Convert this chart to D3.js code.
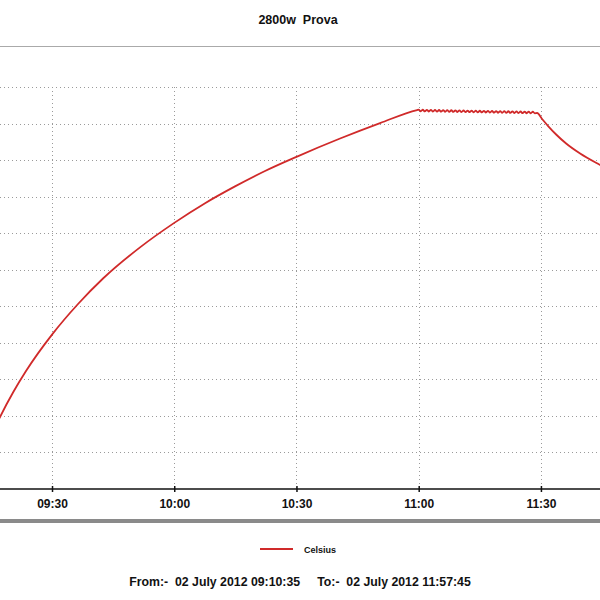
<!DOCTYPE html>
<html>
<head>
<meta charset="utf-8">
<script src="https://cdn.jsdelivr.net/npm/d3@7"></script>
<style>
  html, body { margin: 0; padding: 0; background: #fff; }
  svg { display: block; font-family: "Liberation Sans", Arial, Helvetica, sans-serif; }
</style>
</head>
<body>
<svg id="chart" width="600" height="600"></svg>
<script>
// ---- data ----
const chartTitle = "2800w  Prova";
const seriesName = "Celsius";
const footerText = "From:-  02 July 2012 09:10:35     To:-  02 July 2012 11:57:45";
const dateStr = "2012-07-02";
const startTime = "09:10:35";
const endTime = "11:57:45";
const xTickLabels = ["09:30", "10:00", "10:30", "11:00", "11:30"];
const yTicks = [20, 25, 30, 35, 40, 45, 50, 55, 60, 65, 70, 75];

// heating phase
const heatTimes = ["09:10:35","09:14:02","09:17:14","09:20:26","09:23:37","09:30:00","09:36:23","09:42:31","09:51:36","10:00:00","10:07:34","10:14:55","10:22:17","10:30:00","10:40:42","10:50:31","10:59:36"];
const heatValues = [21.37, 26.02, 29.85, 33.20, 36.14, 41.12, 45.31, 48.80, 53.06, 56.41, 59.10, 61.40, 63.51, 65.45, 67.95, 70.06, 71.85];

// thermostat-cycling plateau
const plateauTimes = ["11:00:00","11:00:30","11:01:00","11:01:30","11:02:00","11:02:30","11:03:00","11:03:30","11:04:00","11:04:30","11:05:00","11:05:30","11:06:00","11:06:30","11:07:00","11:07:30","11:08:00","11:08:30","11:09:00","11:09:30","11:10:00","11:10:30","11:11:00","11:11:30","11:12:00","11:12:30","11:13:00","11:13:30","11:14:00","11:14:30","11:15:00","11:15:30","11:16:00","11:16:30","11:17:00","11:17:30","11:18:00","11:18:30","11:19:00","11:19:30","11:20:00","11:20:30","11:21:00","11:21:30","11:22:00","11:22:30","11:23:00","11:23:30","11:24:00","11:24:30","11:25:00","11:25:30","11:26:00","11:26:30","11:27:00","11:27:30","11:28:00","11:28:30"];
const plateauValues = [71.90, 71.67, 71.89, 71.66, 71.88, 71.65, 71.87, 71.64, 71.86, 71.63, 71.85, 71.62, 71.84, 71.61, 71.83, 71.60, 71.82, 71.59, 71.81, 71.58, 71.80, 71.57, 71.79, 71.56, 71.78, 71.55, 71.77, 71.54, 71.76, 71.53, 71.75, 71.52, 71.74, 71.51, 71.73, 71.50, 71.72, 71.49, 71.71, 71.48, 71.70, 71.47, 71.69, 71.46, 71.68, 71.45, 71.67, 71.44, 71.66, 71.43, 71.65, 71.42, 71.64, 71.41, 71.63, 71.40, 71.62, 71.40];

// cooling phase
const coolTimes = ["11:29:04","11:30:17","11:31:46","11:33:44","11:36:11","11:39:37","11:44:32","11:50:40","11:57:45"];
const coolValues = [71.44, 70.62, 69.66, 68.50, 67.27, 65.90, 64.33, 62.55, 60.77];

// ---- build ----
const parse = d3.timeParse("%Y-%m-%d %H:%M:%S");
const toDate = t => parse(dateStr + " " + t);
const allTimes = heatTimes.concat(plateauTimes, coolTimes);
const allValues = heatValues.concat(plateauValues, coolValues);
const data = allTimes.map((t, i) => ({ t: toDate(t), v: allValues[i] }));

const svg = d3.select("#chart");
const W = 600;

const x = d3.scaleTime()
  .domain([toDate(startTime), toDate(endTime)])
  .range([-27.1, 654.0]);
const y = d3.scaleLinear().domain([20, 75]).range([489, 87]);

// title
svg.append("text")
  .attr("x", 298).attr("y", 23.5)
  .attr("text-anchor", "middle")
  .attr("font-size", 12.5).attr("font-weight", "bold")
  .attr("fill", "#111")
  .attr("xml:space", "preserve")
  .style("white-space", "pre")
  .text(chartTitle);

svg.append("line")
  .attr("x1", 0).attr("x2", W).attr("y1", 46.5).attr("y2", 46.5)
  .attr("stroke", "#aaa").attr("stroke-width", 1.2);

// grid
const xTickDates = xTickLabels.map(s => toDate(s + ":00"));
const grid = svg.append("g").attr("stroke", "#9a9a9a").attr("stroke-width", 1)
  .attr("stroke-dasharray", "1,3");
grid.selectAll("line.h").data(yTicks.filter(v => v > 20)).join("line")
  .attr("class", "h")
  .attr("x1", 0).attr("x2", W)
  .attr("y1", d => Math.round(y(d)) + 0.5).attr("y2", d => Math.round(y(d)) + 0.5);
grid.selectAll("line.v").data(xTickDates).join("line")
  .attr("class", "v")
  .attr("x1", d => Math.round(x(d)) + 0.5).attr("x2", d => Math.round(x(d)) + 0.5)
  .attr("y1", y(75)).attr("y2", y(20));

// x axis
const xAxis = d3.axisBottom(x)
  .tickValues(xTickDates)
  .tickFormat((d, i) => xTickLabels[i])
  .tickSizeInner(0).tickSizeOuter(0).tickPadding(10);
const gx = svg.append("g").attr("transform", `translate(0,${y(20)})`).call(xAxis);
gx.select(".domain").remove();
gx.append("line").attr("x1", 0).attr("x2", W).attr("y1", 0).attr("y2", 0)
  .attr("stroke", "#111").attr("stroke-width", 1.6);
gx.selectAll(".tick").append("line")
  .attr("y1", -3).attr("y2", 3).attr("stroke", "#111").attr("stroke-width", 1.5);
gx.selectAll(".tick text")
  .attr("font-size", 12).attr("font-weight", "bold")
  .attr("fill", "#111")
  .attr("font-family", "'Liberation Sans', Arial, sans-serif");

// bottom band
svg.append("line")
  .attr("x1", 0).attr("x2", W).attr("y1", 521).attr("y2", 521)
  .attr("stroke", "#8a8a8a").attr("stroke-width", 4);

// series line
const line = d3.line().x(d => x(d.t)).y(d => y(d.v)).curve(d3.curveMonotoneX);
svg.append("path").datum(data)
  .attr("d", line)
  .attr("fill", "none")
  .attr("stroke", "#d02a2a")
  .attr("stroke-width", 1.8)
  .attr("stroke-linejoin", "round");

// legend
svg.append("line")
  .attr("x1", 260).attr("x2", 293).attr("y1", 549).attr("y2", 549)
  .attr("stroke", "#d02a2a").attr("stroke-width", 2);
svg.append("text")
  .attr("x", 304).attr("y", 552.5)
  .attr("font-size", 9).attr("font-weight", "bold").attr("fill", "#111")
  .text(seriesName);

// footer
svg.append("text")
  .attr("x", 300).attr("y", 586)
  .attr("text-anchor", "middle")
  .attr("font-size", 12.3).attr("font-weight", "bold").attr("fill", "#111")
  .attr("xml:space", "preserve")
  .style("white-space", "pre")
  .text(footerText);
</script>
</body>
</html>
